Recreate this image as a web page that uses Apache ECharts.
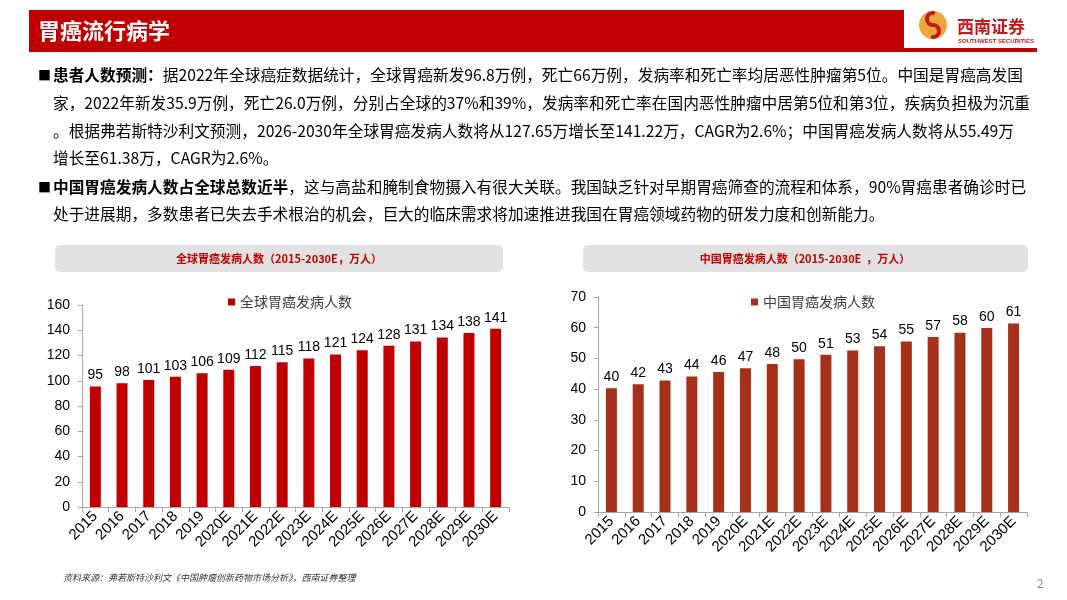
<!DOCTYPE html>
<html>
<head>
<meta charset="utf-8">
<script src="https://cdn.jsdelivr.net/npm/echarts@6/dist/echarts.min.js"></script>
<style>
  html, body { margin: 0; padding: 0; background: #fff; }
  #main { width: 1067px; height: 600px; }
</style>
</head>
<body>
<div id="main"></div>
<script>
var years = ['2015', '2016', '2017', '2018', '2019', '2020E', '2021E', '2022E', '2023E', '2024E', '2025E', '2026E', '2027E', '2028E', '2029E', '2030E'];
// 万人
var globalCases = [95.4, 98.0, 100.6, 103.2, 105.9, 108.7, 111.6, 114.6, 117.6, 120.8, 124.1, 127.65, 131.0, 134.3, 137.9, 141.22];
var chinaCases = [40.3, 41.6, 42.8, 44.1, 45.6, 46.8, 48.2, 49.7, 51.2, 52.6, 54.0, 55.49, 57.0, 58.4, 59.9, 61.38];
var globalTicks = { min: 0, max: 160, interval: 20 };
var chinaTicks = { min: 0, max: 70, interval: 10 };

var FONT = '"Noto Sans CJK SC", "Microsoft YaHei", sans-serif';
var NUM = '"Liberation Sans", Arial, sans-serif';

var bodyLines = [
    '{b|患者人数预测：}据2022年全球癌症数据统计，全球胃癌新发96.8万例，死亡66万例，发病率和死亡率均居恶性肿瘤第5位。中国是胃癌高发国',
    '家，2022年新发35.9万例，死亡26.0万例，分别占全球的37%和39%，发病率和死亡率在国内恶性肿瘤中居第5位和第3位，疾病负担极为沉重',
    '。根据弗若斯特沙利文预测，2026-2030年全球胃癌发病人数将从127.65万增长至141.22万，CAGR为2.6%；中国胃癌发病人数将从55.49万',
    '增长至61.38万，CAGR为2.6%。',
    '{b|中国胃癌发病人数占全球总数近半}，这与高盐和腌制食物摄入有很大关联。我国缺乏针对早期胃癌筛查的流程和体系，90%胃癌患者确诊时已',
    '处于进展期，多数患者已失去手术根治的机会，巨大的临床需求将加速推进我国在胃癌领域药物的研发力度和创新能力。'
];
var lineY = [75, 103, 131, 158, 187, 214];

var graphics = [
    // header bar
    { type: 'rect', shape: { x: 29, y: 10, width: 875, height: 42 }, style: { fill: '#C00000' } },
    { type: 'rect', shape: { x: 904, y: 48, width: 133, height: 4 }, style: { fill: '#C00000' } },
    { type: 'text', x: 38, y: 31, style: { text: '胃癌流行病学', fill: '#fff', font: 'bold 22px ' + FONT, textVerticalAlign: 'middle' } },
    // logo
    { type: 'circle', shape: { cx: 933, cy: 25, r: 14 }, style: { fill: '#E8A93C' } },
    { type: 'arc', shape: { cx: 933, cy: 19, r: 6, startAngle: Math.PI * 0.5, endAngle: Math.PI * 1.6 }, style: { stroke: '#C8161D', lineWidth: 4, fill: null } },
    { type: 'arc', shape: { cx: 933, cy: 31, r: 6, startAngle: -Math.PI * 0.5, endAngle: Math.PI * 0.6 }, style: { stroke: '#C8161D', lineWidth: 4, fill: null } },
    { type: 'text', x: 957, y: 27, style: { text: '西南证券', fill: '#C8161D', font: 'bold 17px ' + FONT, textVerticalAlign: 'middle' } },
    { type: 'text', x: 958, y: 41, style: { text: 'SOUTHWEST SECURITIES', fill: '#C8161D', font: 'bold 6px ' + NUM, textVerticalAlign: 'middle' } },
    // bullets
    { type: 'text', x: 38, y: lineY[0], style: { text: '■', fill: '#000', font: '13px ' + FONT, textVerticalAlign: 'middle' } },
    { type: 'text', x: 38, y: lineY[4], style: { text: '■', fill: '#000', font: '13px ' + FONT, textVerticalAlign: 'middle' } },
    // chart title boxes
    { type: 'rect', shape: { x: 55, y: 245, width: 448, height: 27, r: 5 }, style: { fill: '#E2E2E2' } },
    { type: 'text', x: 279, y: 258.5, style: { text: '全球胃癌发病人数（2015-2030E，万人）', fill: '#C00000', font: 'bold 11px ' + FONT, textAlign: 'center', textVerticalAlign: 'middle' } },
    { type: 'rect', shape: { x: 583, y: 245, width: 445, height: 27, r: 5 }, style: { fill: '#E2E2E2' } },
    { type: 'text', x: 805, y: 258.5, style: { text: '中国胃癌发病人数（2015-2030E  ，万人）', fill: '#C00000', font: 'bold 11px ' + FONT, textAlign: 'center', textVerticalAlign: 'middle' } },
    // footer
    { type: 'text', x: 63, y: 578, style: { text: '资料来源：弗若斯特沙利文《中国肿瘤创新药物市场分析》，西南证券整理', fill: '#333', font: 'italic 9px ' + FONT, textVerticalAlign: 'middle' } },
    { type: 'text', x: 1037, y: 583, style: { text: '2', fill: '#888', font: '12px ' + FONT, textVerticalAlign: 'middle' } }
];
bodyLines.forEach(function (t, i) {
    graphics.push({
        type: 'text', x: 53, y: lineY[i],
        style: {
            text: t, fill: '#000', font: '15.7px ' + FONT, textVerticalAlign: 'middle',
            rich: { b: { fontWeight: 'bold', fontSize: 15.7, fontFamily: FONT, fill: '#000' } }
        }
    });
});

function axisX(idx) {
    return {
        type: 'category', gridIndex: idx, data: years,
        axisLine: { lineStyle: { color: '#A6A6A6' } },
        axisTick: { show: true, lineStyle: { color: '#A6A6A6' } },
        axisLabel: { rotate: 45, interval: 0, fontSize: 15, color: '#000', fontFamily: NUM, margin: 7 }
    };
}
function axisY(idx, t) {
    return {
        type: 'value', gridIndex: idx, min: t.min, max: t.max, interval: t.interval,
        axisLine: { show: true, lineStyle: { color: '#A6A6A6' } },
        axisTick: { show: true, length: 4, lineStyle: { color: '#A6A6A6' } },
        splitLine: { show: false },
        axisLabel: { fontSize: 14, color: '#000', fontFamily: NUM, margin: 12 }
    };
}
function barLabel() {
    return {
        show: true, position: 'top', distance: 4, fontSize: 14, color: '#000', fontFamily: NUM,
        formatter: function (p) { return Math.round(p.value); }
    };
}

var chart = echarts.init(document.getElementById('main'));
chart.setOption({
    backgroundColor: '#fff',
    animation: false,
    graphic: graphics,
    legend: [
        { data: ['全球胃癌发病人数'], left: 223, top: 290, icon: 'rect', itemWidth: 7, itemHeight: 7, itemGap: 4,
          textStyle: { fontSize: 14, color: '#404040', fontFamily: FONT } },
        { data: ['中国胃癌发病人数'], left: 746, top: 290, icon: 'rect', itemWidth: 7, itemHeight: 7, itemGap: 4,
          textStyle: { fontSize: 14, color: '#404040', fontFamily: FONT } }
    ],
    grid: [
        { left: 82, top: 305, width: 427, height: 202 },
        { left: 598, top: 297, width: 429, height: 215 }
    ],
    xAxis: [axisX(0), axisX(1)],
    yAxis: [axisY(0, globalTicks), axisY(1, chinaTicks)],
    series: [
        { name: '全球胃癌发病人数', type: 'bar', xAxisIndex: 0, yAxisIndex: 0, data: globalCases,
          barWidth: 11, itemStyle: { color: '#C00000' }, label: barLabel() },
        { name: '中国胃癌发病人数', type: 'bar', xAxisIndex: 1, yAxisIndex: 1, data: chinaCases,
          barWidth: 11, itemStyle: { color: '#A5311A' }, label: barLabel() }
    ]
});
</script>
</body>
</html>
